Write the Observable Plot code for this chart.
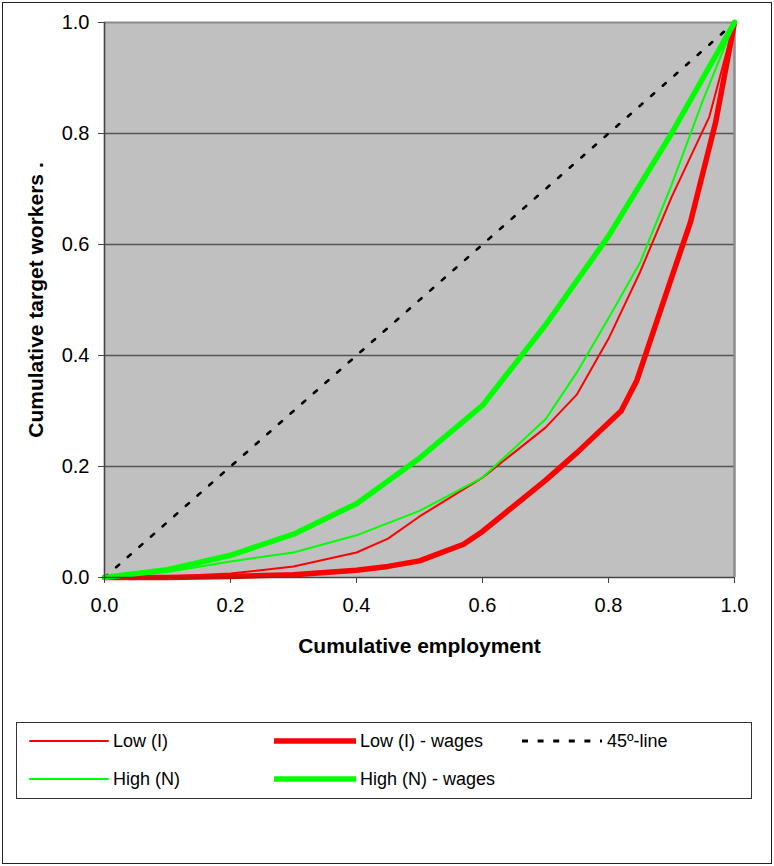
<!DOCTYPE html>
<html>
<head>
<meta charset="utf-8">
<script src="https://cdn.jsdelivr.net/npm/d3@7"></script>
<script src="https://cdn.jsdelivr.net/npm/@observablehq/plot@0.6"></script>
<style>
  html, body { margin: 0; padding: 0; background: #fff; }
  body { width: 774px; height: 866px; position: relative; overflow: hidden; font-family: "Liberation Sans", Arial, sans-serif; }
  #frame { position: absolute; left: 2px; top: 2px; width: 768px; height: 860px; border: 1px solid #222; }
  #chart { position: absolute; left: 0; top: 0; }
  #legend { position: absolute; left: 16px; top: 722px; width: 734px; height: 75px; border: 1px solid #333; background: #fff; }
  .item { position: absolute; height: 20px; display: flex; align-items: center; font-size: 18px; color: #000; white-space: nowrap; }
  .item svg { display: block; margin-right: 4px; }
</style>
</head>
<body>
<div id="frame"></div>
<div id="chart"></div>
<div id="legend"></div>
<script>
// ---- data ----
const xLow = [0, 0.1, 0.2, 0.3, 0.4, 0.45, 0.5, 0.6, 0.7, 0.75, 0.8, 0.85, 0.9, 0.96, 1.0];
const yLow = [0, 0.002, 0.007, 0.02, 0.045, 0.07, 0.11, 0.18, 0.27, 0.33, 0.43, 0.55, 0.685, 0.83, 1.0];

const xLowWages = [0, 0.1, 0.2, 0.3, 0.4, 0.45, 0.5, 0.57, 0.6, 0.7, 0.75, 0.82, 0.845, 0.9, 0.93, 0.97, 1.0];
const yLowWages = [0, 0.0, 0.002, 0.005, 0.013, 0.02, 0.03, 0.06, 0.083, 0.175, 0.225, 0.30, 0.355, 0.54, 0.64, 0.82, 1.0];

const xHigh = [0, 0.1, 0.2, 0.3, 0.4, 0.5, 0.6, 0.7, 0.75, 0.8, 0.85, 0.9, 0.95, 1.0];
const yHigh = [0, 0.01, 0.029, 0.045, 0.076, 0.12, 0.18, 0.285, 0.37, 0.467, 0.567, 0.707, 0.86, 1.0];

const xHighWages = [0, 0.1, 0.2, 0.3, 0.4, 0.5, 0.6, 0.7, 0.8, 0.9, 0.96, 1.0];
const yHighWages = [0, 0.014, 0.04, 0.078, 0.133, 0.215, 0.31, 0.455, 0.615, 0.80, 0.92, 1.0];

const x45 = [0, 1];
const y45 = [0, 1];

const ticks = [0, 0.2, 0.4, 0.6, 0.8, 1.0];
const gridValues = [0.2, 0.4, 0.6, 0.8];
const xTitle = "Cumulative employment";
const yTitle = "Cumulative target workers .";

const seriesNames = ["Low (I)", "Low (I) - wages", "45º-line", "High (N)", "High (N) - wages"];

const toRows = (xs, ys) => xs.map((x, i) => ({x, y: ys[i]}));

const RED = "#ff0000", GREEN = "#00ff00";
const fmt = d3.format(".1f");

const chart = Plot.plot({
  width: 774,
  height: 700,
  marginLeft: 104,
  marginRight: 40,
  marginTop: 22,
  marginBottom: 123,
  x: {domain: [0, 1]},
  y: {domain: [0, 1]},
  style: {fontFamily: "'Liberation Sans', Arial, sans-serif", color: "#000", background: "transparent"},
  marks: [
    Plot.frame({fill: "#c0c0c0", stroke: null}),
    Plot.gridY(gridValues, {stroke: "#555", strokeOpacity: 1, strokeWidth: 1.4}),
    Plot.ruleY([1], {stroke: "#8c8c8c", strokeWidth: 2}),
    Plot.ruleX([1], {stroke: "#8c8c8c", strokeWidth: 2.5}),
    Plot.line(toRows(x45, y45), {x: "x", y: "y", stroke: "#000", strokeWidth: 2.6, strokeDasharray: "4,11.5"}),
    Plot.line(toRows(xLow, yLow), {x: "x", y: "y", stroke: RED, strokeWidth: 2}),
    Plot.line(toRows(xLowWages, yLowWages), {x: "x", y: "y", stroke: RED, strokeWidth: 5.5}),
    Plot.line(toRows(xHigh, yHigh), {x: "x", y: "y", stroke: GREEN, strokeWidth: 2}),
    Plot.line(toRows(xHighWages, yHighWages), {x: "x", y: "y", stroke: GREEN, strokeWidth: 5.5}),
    Plot.ruleX([0], {stroke: "#444", strokeWidth: 1.6}),
    Plot.ruleY([0], {stroke: "#444", strokeWidth: 1.6}),
    Plot.axisX({ticks, tickFormat: fmt, tickSize: 6, tickPadding: 14, fontSize: 20, label: null, stroke: "#444"}),
    Plot.axisY({ticks, tickFormat: fmt, tickSize: 6, tickPadding: 9, fontSize: 20, label: null, stroke: "#444"}),
    Plot.text([xTitle], {text: d => d, frameAnchor: "bottom", dy: 69, lineAnchor: "middle", textAnchor: "middle", fontSize: 21, fontWeight: "bold", fill: "#000"}),
    Plot.text([yTitle], {text: d => d, frameAnchor: "left", rotate: -90, dx: -68, lineAnchor: "middle", textAnchor: "middle", fontSize: 21, fontWeight: "bold", fill: "#000"})
  ]
});
document.getElementById("chart").appendChild(chart);

// ---- legend ----
const legendItems = [
  {name: seriesNames[0], color: RED, width: 2, dash: null, left: 12, top: 8, len: 80},
  {name: seriesNames[1], color: RED, width: 5.5, dash: null, left: 257, top: 8, len: 82},
  {name: seriesNames[2], color: "#000", width: 3, dash: "6,9.6", left: 504, top: 8, len: 82},
  {name: seriesNames[3], color: GREEN, width: 2, dash: null, left: 12, top: 46, len: 80},
  {name: seriesNames[4], color: GREEN, width: 5.5, dash: null, left: 257, top: 46, len: 82}
];
const legend = d3.select("#legend");
for (const it of legendItems) {
  const div = legend.append("div").attr("class", "item")
    .style("left", it.left + "px").style("top", it.top + "px");
  const s = div.append("svg").attr("width", it.len).attr("height", 12);
  s.append("line").attr("x1", 1).attr("x2", it.len - 1).attr("y1", 6).attr("y2", 6)
    .attr("stroke", it.color).attr("stroke-width", it.width)
    .attr("stroke-linecap", it.dash ? "butt" : "round")
    .attr("stroke-dasharray", it.dash);
  div.append("span").text(it.name);
}
</script>
</body>
</html>
